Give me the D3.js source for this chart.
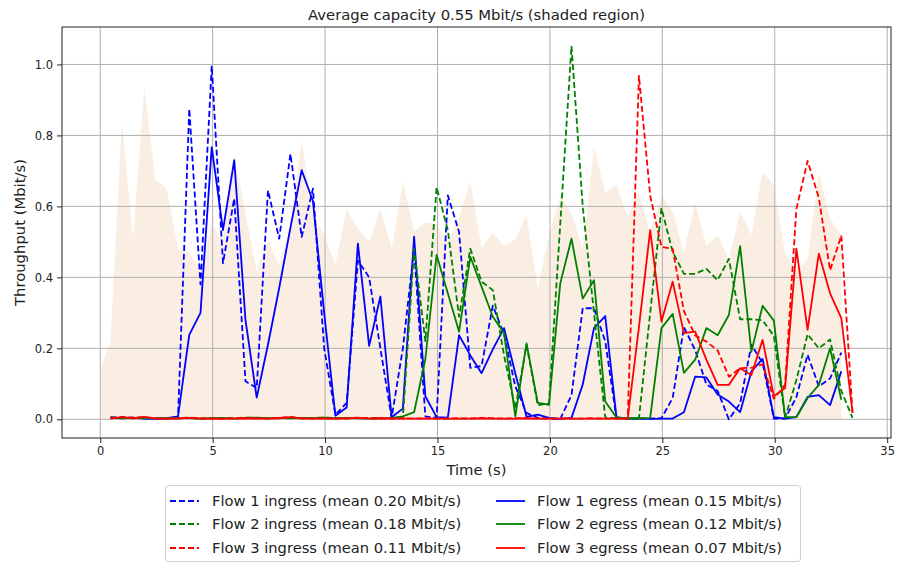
<!DOCTYPE html>
<html><head><meta charset="utf-8">
<script src="https://cdn.jsdelivr.net/npm/d3@7"></script>
<style>
body{margin:0;background:#fff;}
svg{font-family:"DejaVu Sans",sans-serif;}
</style></head>
<body><svg id="c" width="898" height="565"></svg>
<script>
const times = [0.46,0.96,1.46,1.96,2.46,2.96,3.46,3.96,4.46,4.96,5.46,5.96,6.46,6.96,7.46,7.96,8.46,8.96,9.46,9.96,10.46,10.96,11.46,11.96,12.46,12.96,13.46,13.96,14.46,14.96,15.46,15.96,16.46,16.96,17.46,17.96,18.46,18.96,19.46,19.96,20.46,20.96,21.46,21.96,22.46,22.96,23.46,23.96,24.46,24.96,25.46,25.96,26.46,26.96,27.46,27.96,28.46,28.96,29.46,29.96,30.46,30.96,31.46,31.96,32.46,32.96,33.46];
const capTimes = [0].concat(times.slice(0,66));
const capacity = [0.14,0.22,0.84,0.51,0.935,0.675,0.65,0.48,0.47,0.42,0.55,0.5,0.745,0.58,0.416,0.505,0.434,0.55,0.79,0.57,0.523,0.434,0.594,0.537,0.5,0.594,0.482,0.67,0.53,0.555,0.55,0.5,0.57,0.67,0.484,0.526,0.49,0.507,0.575,0.367,0.52,0.63,0.58,0.482,0.768,0.64,0.66,0.57,0.64,0.524,0.63,0.585,0.47,0.61,0.49,0.52,0.45,0.585,0.52,0.697,0.66,0.47,0.42,0.45,0.697,0.565,0.52];
const flow1In = [0.006,0.004,0.005,0.003,0.002,0.003,0.006,0.875,0.38,0.996,0.44,0.622,0.107,0.088,0.645,0.509,0.748,0.514,0.65,0.2,0.013,0.046,0.447,0.40,0.2,0.004,0.2,0.48,0.008,0.004,0.631,0.528,0.145,0.15,0.32,0.24,0.093,0.018,0.004,0.002,0.001,0.068,0.313,0.313,0.22,0.004,0.002,0.002,0.002,0.003,0.06,0.26,0.195,0.098,0.08,0.0,0.045,0.21,0.159,0.002,0.002,0.062,0.182,0.093,0.115,0.188];
const flow1Out = [0.005,0.003,0.004,0.002,0.002,0.003,0.008,0.238,0.30,0.767,0.533,0.73,0.28,0.061,0.21,0.37,0.54,0.702,0.615,0.30,0.01,0.033,0.495,0.207,0.346,0.006,0.03,0.515,0.065,0.006,0.005,0.237,0.18,0.13,0.197,0.257,0.13,0.007,0.013,0.004,0.001,0.004,0.098,0.257,0.291,0.006,0.002,0.002,0.001,0.002,0.002,0.02,0.12,0.118,0.07,0.05,0.02,0.135,0.17,0.006,0.002,0.006,0.063,0.068,0.04,0.135];
const flow2In = [0.004,0.003,0.005,0.004,0.003,0.002,0.004,0.003,0.002,0.003,0.004,0.003,0.005,0.004,0.003,0.004,0.005,0.003,0.004,0.005,0.004,0.003,0.004,0.003,0.002,0.003,0.005,0.48,0.22,0.654,0.533,0.289,0.481,0.388,0.364,0.18,0.03,0.21,0.04,0.045,0.55,1.052,0.6,0.3,0.005,0.003,0.002,0.003,0.3,0.595,0.472,0.41,0.41,0.424,0.392,0.452,0.282,0.282,0.279,0.235,0.004,0.11,0.24,0.2,0.225,0.08,0.004];
const flow2Out = [0.005,0.004,0.003,0.004,0.002,0.003,0.003,0.004,0.002,0.003,0.004,0.002,0.004,0.005,0.003,0.004,0.003,0.004,0.003,0.005,0.003,0.004,0.003,0.002,0.003,0.004,0.008,0.02,0.17,0.463,0.355,0.247,0.458,0.374,0.289,0.243,0.008,0.214,0.046,0.041,0.383,0.509,0.34,0.392,0.05,0.005,0.003,0.003,0.004,0.257,0.297,0.131,0.168,0.257,0.237,0.294,0.488,0.19,0.32,0.278,0.006,0.006,0.06,0.097,0.2,0.055];
const flow3In = [0.003,0.007,0.004,0.006,0.003,0.002,0.003,0.005,0.003,0.002,0.002,0.003,0.004,0.003,0.002,0.004,0.007,0.003,0.002,0.003,0.002,0.003,0.005,0.003,0.004,0.002,0.003,0.002,0.003,0.002,0.002,0.003,0.002,0.004,0.003,0.002,0.003,0.004,0.002,0.002,0.003,0.002,0.002,0.003,0.002,0.002,0.002,0.968,0.63,0.486,0.48,0.305,0.236,0.219,0.194,0.12,0.144,0.145,0.155,0.058,0.097,0.592,0.728,0.624,0.42,0.518,0.018];
const flow3Out = [0.002,0.006,0.003,0.007,0.002,0.002,0.002,0.004,0.002,0.002,0.001,0.002,0.003,0.002,0.002,0.003,0.006,0.002,0.002,0.002,0.002,0.002,0.004,0.002,0.003,0.002,0.002,0.002,0.002,0.002,0.002,0.002,0.002,0.003,0.002,0.002,0.002,0.003,0.002,0.002,0.002,0.002,0.002,0.002,0.002,0.002,0.002,0.26,0.533,0.275,0.388,0.243,0.247,0.168,0.097,0.097,0.144,0.125,0.224,0.065,0.088,0.481,0.252,0.467,0.355,0.285,0.018];
const xTicks = [0,5,10,15,20,25,30,35];
const yTicks = [0.0,0.2,0.4,0.6,0.8,1.0];
const seriesNames = ["Flow 1 ingress (mean 0.20 Mbit/s)","Flow 2 ingress (mean 0.18 Mbit/s)","Flow 3 ingress (mean 0.11 Mbit/s)","Flow 1 egress (mean 0.15 Mbit/s)","Flow 2 egress (mean 0.12 Mbit/s)","Flow 3 egress (mean 0.07 Mbit/s)"];
const titleText = "Average capacity 0.55 Mbit/s (shaded region)";

const svg = d3.select("#c");
const L=62, R=891, T=27, B=438;
const x = d3.scaleLinear().domain([-1.7,35.17]).range([L,R]);
const y = d3.scaleLinear().domain([-0.0527,1.1055]).range([B,T]);

// shaded capacity
const capData = capTimes.map((t,i)=>[t,capacity[i]]);
svg.append("path").datum(capData)
  .attr("d", d3.area().x(d=>x(d[0])).y0(y(0)).y1(d=>y(d[1])))
  .attr("fill","#faeee3");

// grid
const g = svg.append("g");
xTicks.forEach(v=>g.append("line").attr("x1",x(v)).attr("x2",x(v)).attr("y1",T).attr("y2",B).attr("stroke","#b0b0b0").attr("stroke-width",1));
yTicks.forEach(v=>g.append("line").attr("x1",L).attr("x2",R).attr("y1",y(v)).attr("y2",y(v)).attr("stroke","#b0b0b0").attr("stroke-width",1));

svg.append("clipPath").attr("id","cl").append("rect").attr("x",L).attr("y",T).attr("width",R-L).attr("height",B-T);
const lines = svg.append("g").attr("clip-path","url(#cl)");
const lineGen = d3.line().x(d=>x(d[0])).y(d=>y(d[1]));
const series = [
  {v:flow1In,c:"#0000ff",dash:true},
  {v:flow2In,c:"#008000",dash:true},
  {v:flow3In,c:"#ff0000",dash:true},
  {v:flow1Out,c:"#0000ff",dash:false},
  {v:flow2Out,c:"#008000",dash:false},
  {v:flow3Out,c:"#ff0000",dash:false}
];
const drawOrder=[0,3,1,4,2,5];
drawOrder.forEach(i=>{
  const s=series[i];
  lines.append("path").datum(s.v.map((v,j)=>[times[j],v]))
    .attr("d",lineGen).attr("fill","none").attr("stroke",s.c)
    .attr("stroke-width",1.8).attr("stroke-linejoin","round")
    .attr("stroke-dasharray",s.dash?"6,3":null);
});

// frame
svg.append("rect").attr("x",L).attr("y",T).attr("width",R-L).attr("height",B-T).attr("fill","none").attr("stroke","#222").attr("stroke-width",1);

// axes
const xa = svg.append("g").attr("transform",`translate(0,${B})`)
  .call(d3.axisBottom(x).tickValues(xTicks).tickFormat(d3.format("d")).tickSize(5).tickPadding(4));
const ya = svg.append("g").attr("transform",`translate(${L},0)`)
  .call(d3.axisLeft(y).tickValues(yTicks).tickFormat(d3.format(".1f")).tickSize(5).tickPadding(4));
[xa,ya].forEach(a=>{a.select(".domain").remove();a.selectAll("text").attr("font-size",11.5).attr("fill","#222").attr("font-family","DejaVu Sans");a.selectAll("line").attr("stroke","#222");});

svg.append("text").attr("x",(L+R)/2).attr("y",20).attr("text-anchor","middle").attr("font-size",14.8).attr("fill","#222").text(titleText);
svg.append("text").attr("x",(L+R)/2).attr("y",475).attr("text-anchor","middle").attr("font-size",14.8).attr("fill","#222").text("Time (s)");
svg.append("text").attr("transform",`translate(25,${(T+B)/2}) rotate(-90)`).attr("text-anchor","middle").attr("font-size",14.8).attr("fill","#222").text("Throughput (Mbit/s)");

// legend
const lg = svg.append("g");
lg.append("rect").attr("x",165.5).attr("y",485.5).attr("width",635).attr("height",76).attr("rx",3)
  .attr("fill","#fff").attr("stroke","#d0d0d0").attr("stroke-width",1);
const cols=[{hx:170,tx:212},{hx:496,tx:537}];
const rowsY=[501,524,548];
seriesNames.forEach((n,i)=>{
  const col=cols[Math.floor(i/3)], ry=rowsY[i%3], s=series[i];
  lg.append("line").attr("x1",col.hx).attr("x2",col.hx+29).attr("y1",ry).attr("y2",ry)
    .attr("stroke",s.c).attr("stroke-width",1.8).attr("stroke-dasharray",s.dash?"6,3":null);
  lg.append("text").attr("x",col.tx).attr("y",ry+5).attr("font-size",14.7).attr("fill","#222").text(n);
});
</script></body></html>
